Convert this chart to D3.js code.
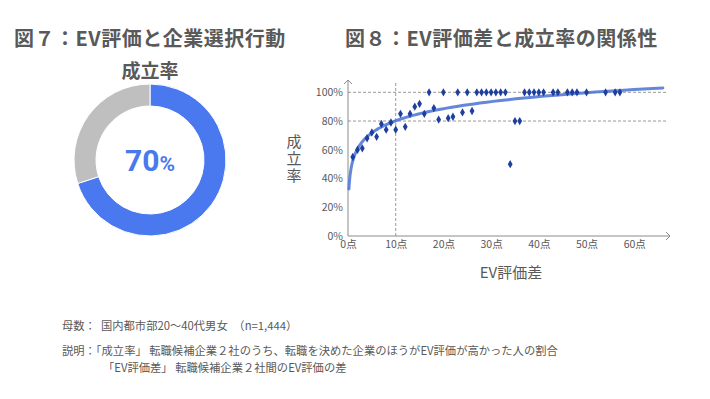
<!DOCTYPE html>
<html>
<head>
<meta charset="utf-8">
<script src="https://cdn.jsdelivr.net/npm/d3@7"></script>
<style>
  body { margin: 0; background: #fff; }
  svg { display: block; font-family: "Noto Sans CJK JP", "Noto Sans", sans-serif; }
</style>
</head>
<body>
<svg width="710" height="399"></svg>
<script>
// 図7 : 成立率
const donutLabels = ["成立", "不成立"];
const donutValues = [70, 30];

// 図8 : EV評価差 と 成立率
const evDiff = [1,2,3,4,5,6,7,8,9,10,11,12,13,14,15,16,17,18,19,20,21,22,23,24,25,26,27,28,29,30,31,32,33,34,35,36,37,38,39,40,41,43,44,46,47,48,50,54,56,57];
const rate = [55,60,61,68,72,69,78,74,79,74,85,76,85,90,92,85,100,89,81,100,82,83,100,86,100,87,100,100,100,100,100,100,100,50,80,80,100,100,100,100,100,100,100,100,100,100,100,100,100,100];
const xTicks = [0,10,20,30,40,50,60];
const yTicks = [0,20,40,60,80,100];
const refLinesY = [80,100];
const refLinesX = [10];

const notes = [
  "母数：  国内都市部20～40代男女　（n=1,444）",
  "説明：「成立率」 転職候補企業２社のうち、転職を決めた企業のほうがEV評価が高かった人の割合",
  "「EV評価差」 転職候補企業２社間のEV評価の差"
];

const grey = "#595959";
const svg = d3.select("svg");

// ---- 左 : ドーナツ ----
svg.append("text").attr("x", 14).attr("y", 46)
  .attr("font-size", 20).attr("font-weight", "bold").attr("fill", grey)
  .attr("letter-spacing", 0.5)
  .text("図７：EV評価と企業選択行動");
svg.append("text").attr("x", 150).attr("y", 78).attr("text-anchor", "middle")
  .attr("font-size", 19).attr("font-weight", "bold").attr("fill", grey)
  .text("成立率");

const donut = svg.append("g").attr("transform", "translate(150,160)");
const pie = d3.pie().sort(null).value(d => d);
const arc = d3.arc().innerRadius(54).outerRadius(76);
const color = d3.scaleOrdinal().domain(donutLabels).range(["#4a78ee", "#bfbfbf"]);
donut.selectAll("path")
  .data(pie(donutValues))
  .join("path")
  .attr("d", arc)
  .attr("fill", (d, i) => color(donutLabels[i]))
  .attr("stroke", "#fff")
  .attr("stroke-width", 1);
const centerText = donut.append("text").attr("y", 11).attr("text-anchor", "middle")
  .attr("font-weight", "bold").attr("fill", "#4a78ee").attr("font-family", "Roboto, 'Noto Sans', sans-serif");
centerText.append("tspan").attr("font-size", 30).text(donutValues[0]);
centerText.append("tspan").attr("font-size", 21).text("%");

// ---- 右 : 散布図 ----
svg.append("text").attr("x", 345).attr("y", 46)
  .attr("font-size", 20).attr("font-weight", "bold").attr("fill", grey)
  .attr("letter-spacing", 0.5)
  .text("図８：EV評価差と成立率の関係性");

const x = d3.scaleLinear().domain([0, 67.5]).range([348, 670]);
const y = d3.scaleLinear().domain([0, 100]).range([236, 92.3]);

// 補助線
svg.selectAll(".refy").data(refLinesY).join("line")
  .attr("x1", x(0)).attr("x2", 668)
  .attr("y1", d => y(d)).attr("y2", d => y(d))
  .attr("stroke", "#7f7f7f").attr("stroke-width", 0.8).attr("stroke-dasharray", "3,2");
svg.selectAll(".refx").data(refLinesX).join("line")
  .attr("x1", d => x(d)).attr("x2", d => x(d))
  .attr("y1", y(0)).attr("y2", 82)
  .attr("stroke", "#7f7f7f").attr("stroke-width", 0.8).attr("stroke-dasharray", "3,2");

// 軸
const yAxis = svg.append("g").attr("transform", `translate(${x(0)},0)`)
  .call(d3.axisLeft(y).tickValues(yTicks).tickSize(0).tickPadding(5).tickFormat(d => d + "%"));
const xAxis = svg.append("g").attr("transform", `translate(0,${y(0)})`)
  .call(d3.axisBottom(x).tickValues(xTicks).tickSize(0).tickPadding(5).tickFormat(d => d + "点"));
[yAxis, xAxis].forEach(g => {
  g.select(".domain").remove();
  g.selectAll("text").attr("fill", grey).attr("font-size", 10.5)
    .attr("font-family", "'Noto Sans CJK JP', sans-serif");
});
// 軸線と矢印
svg.append("path").attr("d", `M${x(0)},${y(0)}V80M${x(0) - 4},84L${x(0)},80L${x(0) + 4},84`)
  .attr("fill", "none").attr("stroke", "#8c8c8c").attr("stroke-width", 1);
svg.append("path").attr("d", `M${x(0)},${y(0)}H670M666,${y(0) - 4}L670,${y(0)}L666,${y(0) + 4}`)
  .attr("fill", "none").attr("stroke", "#8c8c8c").attr("stroke-width", 1);

// 近似曲線（対数）: データから最小二乗で求める
const lx = evDiff.map(Math.log);
const mx = d3.mean(lx), my = d3.mean(rate);
const b = d3.sum(lx, (v, i) => (v - mx) * (rate[i] - my)) / d3.sum(lx, v => (v - mx) * (v - mx));
const a = my - b * mx;
const trendX = d3.range(0, 121).map(i => Math.exp(Math.log(0.2) + i * (Math.log(66) - Math.log(0.2)) / 120));
svg.append("path")
  .datum(trendX)
  .attr("d", d3.line().x(d => x(d)).y(d => y(a + b * Math.log(d))))
  .attr("fill", "none").attr("stroke", "#4a72d4").attr("stroke-opacity", 0.85)
  .attr("stroke-width", 3).attr("stroke-linecap", "round");

// 点
svg.selectAll(".pt").data(evDiff).join("path")
  .attr("transform", (d, i) => `translate(${x(d)},${y(rate[i])})`)
  .attr("d", d3.symbol(d3.symbolDiamond, 20))
  .attr("fill", "#1f3f9e");

// 軸ラベル（縦書き）
svg.append("text")
  .attr("x", 294).attr("y", 134)
  .style("writing-mode", "vertical-rl")
  .attr("letter-spacing", 2)
  .attr("font-size", 15).attr("fill", grey).text("成立率");
svg.append("text").attr("x", 511).attr("y", 278).attr("text-anchor", "middle")
  .attr("font-size", 15).attr("fill", grey).text("EV評価差");

// 注記
svg.selectAll(".note").data(notes).join("text")
  .attr("x", (d, i) => i === 2 ? 103 : 62)
  .attr("y", (d, i) => [330, 355, 372][i])
  .attr("font-size", 11.3).attr("fill", grey)
  .attr("xml:space", "preserve")
  .text(d => d);
</script>
</body>
</html>
